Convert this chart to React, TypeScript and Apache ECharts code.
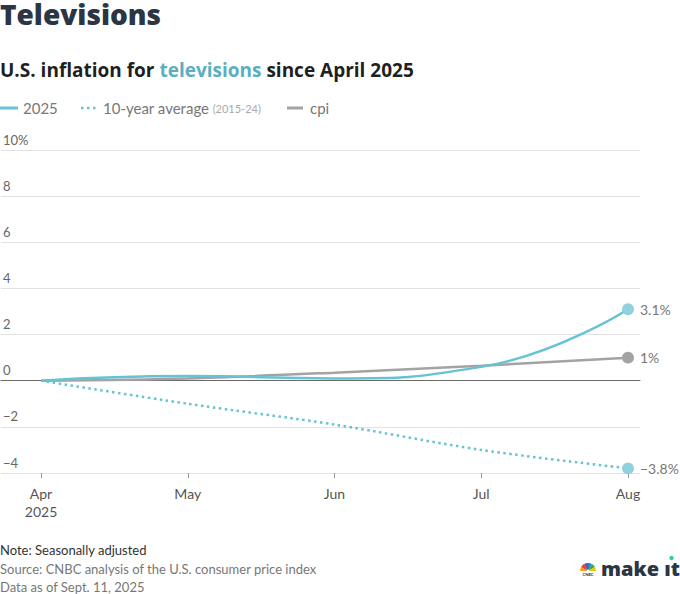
import React, { useEffect, useRef } from "react";
import * as echarts from "echarts";

const months = ["Apr", "May", "Jun", "Jul", "Aug"];
const series2025 = [0, 0.2, 0.1, 0.6, 3.1];
const tenYearAvg = [0, -1.0, -1.9, -3.0, -3.8];
const cpi = [0, 0.1, 0.35, 0.65, 1.0];
const yMin = -4;
const yMax = 10;
const yStep = 2;

const TEAL = "#66C3D3";
const TEAL_DOT = "#8FD2DE";
const GRAY = "#A3A3A3";
const FONT = "Lato, 'Open Sans', sans-serif";
const HEAD = "'Open Sans', Lato, sans-serif";

const fmtPct = (v: number) => (v < 0 ? "\u2212" : "") + Math.abs(v) + "%";

function withEnd(values: number[], color: string) {
  return values.map((v, i) =>
    i === values.length - 1
      ? {
          value: v,
          symbol: "circle",
          symbolSize: 12,
          itemStyle: { color },
          label: {
            show: true,
            position: "right",
            distance: 6,
            formatter: fmtPct(v),
            color: "#777",
            fontSize: 14,
            fontFamily: FONT,
          },
        }
      : { value: v, symbol: "none" }
  );
}

export default function App() {
  const ref = useRef<HTMLDivElement>(null);
  useEffect(() => {
    if (!ref.current) return;
    const chart = echarts.init(ref.current, null, { renderer: "svg" });
    const top = 150;
    const bottom = 121;
    chart.setOption({
      animation: false,
      textStyle: { fontFamily: FONT },
      grid: [
        { left: 0, right: 40, top, bottom },
        { left: 41, right: 52, top, bottom },
      ],
      xAxis: [
        {
          gridIndex: 0,
          type: "value",
          min: 0,
          max: 1,
          axisLine: { show: true, onZero: true, lineStyle: { color: "#6a6a6a", width: 1 } },
          axisTick: { show: false },
          axisLabel: { show: false },
          splitLine: { show: false },
        },
        {
          gridIndex: 1,
          type: "category",
          boundaryGap: false,
          data: months,
          axisLine: { show: false, onZero: false },
          axisTick: { show: true, length: 5, lineStyle: { color: "#999" } },
          axisLabel: {
            color: "#555",
            fontSize: 14,
            fontFamily: FONT,
            margin: 11,
            lineHeight: 18,
            formatter: (v: string, i: number) => (i === 0 ? v + "\n2025" : v),
          },
          splitLine: { show: false },
        },
      ],
      yAxis: [
        {
          gridIndex: 0,
          type: "value",
          min: yMin,
          max: yMax,
          interval: yStep,
          axisLine: { show: false },
          axisTick: { show: false },
          axisLabel: {
            inside: true,
            align: "left",
            verticalAlign: "bottom",
            margin: 2,
            padding: [0, 0, 4, 0],
            color: "#666",
            fontSize: 13,
            fontFamily: FONT,
            formatter: (v: number) =>
              v === yMax ? v + "%" : (v < 0 ? "\u2212" : "") + Math.abs(v),
          },
          splitLine: { show: true, lineStyle: { color: "#e2e2e2", width: 1 } },
        },
        {
          gridIndex: 1,
          type: "value",
          min: yMin,
          max: yMax,
          interval: yStep,
          show: false,
          splitLine: { show: false },
        },
      ],
      series: [
        {
          type: "line",
          xAxisIndex: 1,
          yAxisIndex: 1,
          data: withEnd(tenYearAvg, TEAL_DOT),
          smooth: 0.3,
          lineStyle: { color: TEAL, width: 2.5, type: [2.5, 3.5] },
          itemStyle: { color: TEAL_DOT },
          z: 2,
        },
        {
          type: "line",
          xAxisIndex: 1,
          yAxisIndex: 1,
          data: withEnd(cpi, GRAY),
          smooth: 0.3,
          lineStyle: { color: GRAY, width: 2.5 },
          itemStyle: { color: GRAY },
          z: 3,
        },
        {
          type: "line",
          xAxisIndex: 1,
          yAxisIndex: 1,
          data: withEnd(series2025, TEAL_DOT),
          smooth: 0.5,
          lineStyle: { color: TEAL, width: 2.5 },
          itemStyle: { color: TEAL_DOT },
          z: 4,
        },
      ],
      graphic: [
        {
          type: "text",
          x: 0,
          y: 14,
          style: {
            text: "Televisions",
            fill: "#2B3544",
            font: `800 28px ${HEAD}`,
            verticalAlign: "middle",
          },
        },
        {
          type: "text",
          x: 0,
          y: 70,
          style: {
            text: "{a|U.S. inflation for }{b|televisions}{a| since April 2025}",
            verticalAlign: "middle",
            rich: {
              a: { fill: "#1f1f1f", font: `bold 19px ${HEAD}` },
              b: { fill: "#5AAFBF", font: `bold 19px ${HEAD}` },
            },
          },
        },
        // legend
        {
          type: "line",
          shape: { x1: 0, y1: 108, x2: 18, y2: 108 },
          style: { stroke: TEAL, lineWidth: 3 },
        },
        {
          type: "text",
          x: 23,
          y: 108,
          style: { text: "2025", fill: "#777", font: `15px ${FONT}`, verticalAlign: "middle" },
        },
        {
          type: "line",
          shape: { x1: 81, y1: 108, x2: 96, y2: 108 },
          style: { stroke: TEAL, lineWidth: 2.5, lineDash: [2.5, 3.5] },
        },
        {
          type: "text",
          x: 103,
          y: 108,
          style: {
            text: "{a|10-year average} {b|(2015-24)}",
            verticalAlign: "middle",
            rich: {
              a: { fill: "#777", font: `15px ${FONT}` },
              b: { fill: "#aaa", font: `11px ${FONT}` },
            },
          },
        },
        {
          type: "line",
          shape: { x1: 287, y1: 108, x2: 303, y2: 108 },
          style: { stroke: GRAY, lineWidth: 3 },
        },
        {
          type: "text",
          x: 310,
          y: 108,
          style: { text: "cpi", fill: "#777", font: `15px ${FONT}`, verticalAlign: "middle" },
        },
        // footer
        {
          type: "text",
          x: 0,
          y: 550,
          style: {
            text: "Note: Seasonally adjusted",
            fill: "#333",
            font: `13px ${FONT}`,
            verticalAlign: "middle",
          },
        },
        {
          type: "text",
          x: 0,
          y: 569,
          style: {
            text: "Source: CNBC analysis of the U.S. consumer price index",
            fill: "#777",
            font: `13px ${FONT}`,
            verticalAlign: "middle",
          },
        },
        {
          type: "text",
          x: 0,
          y: 587,
          style: {
            text: "Data as of Sept. 11, 2025",
            fill: "#777",
            font: `13px ${FONT}`,
            verticalAlign: "middle",
          },
        },
        // logo peacock
        {
          type: "group",
          x: 588,
          y: 571,
          children: [
            { type: "sector", shape: { cx: 0, cy: 0, r0: 1.5, r: 8, startAngle: Math.PI, endAngle: Math.PI * 7 / 6 }, style: { fill: "#F9A11B" } },
            { type: "sector", shape: { cx: 0, cy: 0, r0: 1.5, r: 8, startAngle: Math.PI * 7 / 6, endAngle: Math.PI * 8 / 6 }, style: { fill: "#E8412C" } },
            { type: "sector", shape: { cx: 0, cy: 0, r0: 1.5, r: 8, startAngle: Math.PI * 8 / 6, endAngle: Math.PI * 9 / 6 }, style: { fill: "#7A4A9A" } },
            { type: "sector", shape: { cx: 0, cy: 0, r0: 1.5, r: 8, startAngle: Math.PI * 9 / 6, endAngle: Math.PI * 10 / 6 }, style: { fill: "#1C8ACB" } },
            { type: "sector", shape: { cx: 0, cy: 0, r0: 1.5, r: 8, startAngle: Math.PI * 10 / 6, endAngle: Math.PI * 11 / 6 }, style: { fill: "#2FAE4E" } },
            { type: "sector", shape: { cx: 0, cy: 0, r0: 1.5, r: 8, startAngle: Math.PI * 11 / 6, endAngle: Math.PI * 2 }, style: { fill: "#F2C500" } },
            {
              type: "text",
              x: 0,
              y: 3.5,
              style: { text: "CNBC", fill: "#2B3544", font: `bold 4px ${FONT}`, align: "center", verticalAlign: "middle" },
            },
          ],
        },
        {
          type: "text",
          x: 680,
          y: 568,
          style: {
            text: "make \u0131t",
            fill: "#2B3544",
            font: `800 20px ${HEAD}`,
            align: "right",
            verticalAlign: "middle",
          },
        },
        {
          type: "circle",
          shape: { cx: 671.5, cy: 558, r: 2.2 },
          style: { fill: "#3CC8A8" },
        },
      ],
    });
    return () => chart.dispose();
  }, []);
  return (
    <div
      ref={ref}
      style={{ position: "absolute", left: 0, top: 0, width: 680, height: 594 }}
    />
  );
}
